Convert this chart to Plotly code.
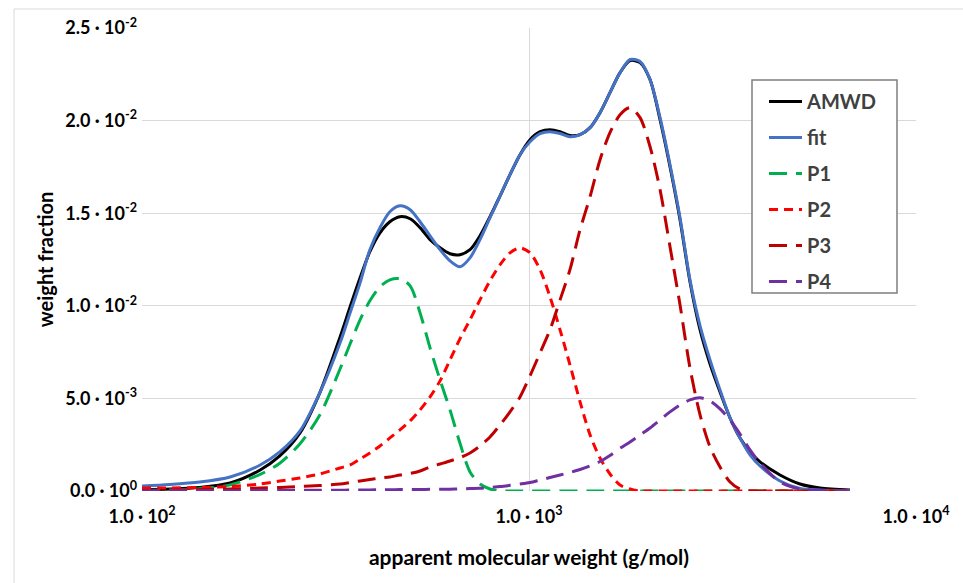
import plotly.graph_objects as go

# apparent molecular weight (g/mol)
mw = [100, 118, 141, 169, 202, 227, 256, 288, 325, 345, 366, 388, 412, 437, 464, 493, 523, 555,
      589, 625, 663, 704, 747, 793, 842, 893, 948, 1006, 1068, 1133, 1203, 1276, 1355, 1438, 1526,
      1619, 1719, 1824, 1936, 2055, 2181, 2314, 2456, 2606, 2767, 2936, 3116, 3307, 3510, 3725,
      3953, 4453, 5015, 5649, 6751]

# weight fraction values, in units of 1e-3
amwd = [0.081, 0.108, 0.189, 0.432, 1.135, 1.892, 3.135, 5.30, 8.32, 9.95, 11.51, 12.92, 13.94,
        14.54, 14.81, 14.70, 14.22, 13.57, 13.13, 12.81, 12.76, 13.03, 13.78, 14.81, 15.94, 17.08,
        18.16, 18.97, 19.40, 19.51, 19.40, 19.19, 19.24, 19.62, 20.43, 21.51, 22.59, 23.24, 23.13,
        22.21, 20.05, 17.51, 14.65, 11.30, 8.70, 6.86, 5.35, 3.95, 2.86, 2.11, 1.57, 0.865, 0.378,
        0.162, 0.054]
fit = [0.270, 0.351, 0.486, 0.757, 1.405, 2.108, 3.243, 5.30, 8.00, 9.62, 11.24, 13.03, 14.22,
       15.08, 15.40, 15.19, 14.54, 13.78, 13.03, 12.43, 12.11, 12.59, 13.57, 14.76, 15.94, 17.08,
       18.16, 18.86, 19.30, 19.40, 19.30, 19.13, 19.24, 19.62, 20.43, 21.51, 22.59, 23.30, 23.19,
       22.21, 20.16, 17.62, 14.76, 11.40, 8.92, 7.08, 5.46, 3.95, 2.86, 1.95, 1.35, 0.541, 0.135,
       0.054, 0.027]
p1 = [0.027, 0.054, 0.120, 0.330, 0.900, 1.50, 2.55, 4.10, 6.60, 7.95, 9.24, 10.27, 11.03,
      11.40, 11.46, 11.08, 9.62, 7.73, 6.00, 4.38, 2.59, 1.03, 0.378, 0.108, 0.0, 0.0, 0.0, 0.0,
      0.0, 0.0, 0.0, 0.0, 0.0, 0.0, 0.0, 0.0, 0.0, 0.0, 0.0, 0.0, 0.0, 0.0, 0.0, 0.0, 0.0, 0.0,
      0.0, 0.0, 0.0, 0.0, 0.0, 0.0, 0.0, 0.0, 0.0]
p2 = [0.162, 0.162, 0.189, 0.243, 0.378, 0.541, 0.703, 0.919, 1.243, 1.405, 1.730, 2.054, 2.432,
      2.865, 3.297, 3.784, 4.378, 5.081, 5.946, 7.081, 8.216, 9.243, 10.32, 11.35, 12.22, 12.86,
      13.13, 12.86, 11.95, 10.49, 8.70, 6.81, 4.81, 3.03, 1.78, 0.919, 0.324, 0.108, 0.0, 0.0,
      0.0, 0.0, 0.0, 0.0, 0.0, 0.0, 0.0, 0.0, 0.0, 0.0, 0.0, 0.0, 0.0, 0.0, 0.0]
p3 = [0.027, 0.054, 0.081, 0.108, 0.162, 0.189, 0.243, 0.297, 0.378, 0.459, 0.541, 0.622, 0.703,
      0.757, 0.865, 0.946, 1.081, 1.30, 1.46, 1.62, 1.80, 2.054, 2.432, 2.919, 3.567, 4.27, 5.08,
      6.22, 7.46, 8.70, 10.32, 11.95, 14.11, 15.89, 17.89, 19.35, 20.32, 20.70, 20.16, 18.59,
      16.27, 13.19, 10.05, 6.65, 4.11, 2.38, 1.30, 0.486, 0.108, 0.0, 0.0, 0.0, 0.0, 0.0, 0.0]
p4 = [0.005, 0.008, 0.012, 0.018, 0.025, 0.030, 0.035, 0.040, 0.045, 0.050, 0.055, 0.060, 0.065,
      0.070, 0.075, 0.080, 0.084, 0.090, 0.095, 0.100, 0.114, 0.130, 0.146, 0.189,
      0.243, 0.308, 0.378, 0.459, 0.595, 0.730, 0.865, 1.00, 1.162, 1.351, 1.594, 1.919, 2.308,
      2.649, 3.027, 3.405, 3.838, 4.27, 4.65, 4.92, 5.03, 4.86, 4.43, 3.84, 3.08, 2.22, 1.51,
      0.486, 0.108, 0.027, 0.005]

SCALE = 1e-3

series_names = ["AMWD", "fit", "P1", "P2", "P3", "P4"]
series_vals = [amwd, fit, p1, p2, p3, p4]
colors = ["#000000", "#4472C4", "#00B050", "#FF0000", "#C00000", "#7030A0"]
dashes = ["solid", "solid", "18px,9px", "9px,6px", "18px,9px", "18px,9px"]

y_tickvals = [0.0, 0.005, 0.010, 0.015, 0.020, 0.025]
y_ticktext = ["0.0 · 10<sup>0</sup>", "5.0 · 10<sup>-3</sup>", "1.0 · 10<sup>-2</sup>",
              "1.5 · 10<sup>-2</sup>", "2.0 · 10<sup>-2</sup>", "2.5 · 10<sup>-2</sup>"]
x_tickvals = [100, 1000, 10000]
x_ticktext = ["1.0 · 10<sup>2</sup>", "1.0 · 10<sup>3</sup>", "1.0 · 10<sup>4</sup>"]

fig = go.Figure()
for name, vals, col, dsh in zip(series_names, series_vals, colors, dashes):
    fig.add_trace(go.Scatter(
        x=mw, y=[v * SCALE for v in vals], mode="lines", name=name,
        legendgroup=name,
        line=dict(color=col, width=3, dash=dsh, shape="spline", smoothing=0.8),
    ))

W, H = 963, 583
ml, mr, mt, mb = 142, 47, 28, 92
pw, ph = W - ml - mr, H - mt - mb

def px2paper_x(px):
    return (px - ml) / pw

def py2paper_y(py):
    return (H - mb - py) / ph

fig.update_layout(
    width=W, height=H,
    margin=dict(l=ml, r=mr, t=mt, b=mb, pad=0),
    paper_bgcolor="white", plot_bgcolor="white",
    font=dict(family="Lato", size=18, color="#000000"),
    showlegend=True,
    legend=dict(
        x=px2paper_x(764), y=py2paper_y(82), xanchor="left", yanchor="top",
        bgcolor="rgba(0,0,0,0)", borderwidth=0,
        font=dict(family="Lato", size=20, color="#404040", weight="bold"),
        traceorder="grouped", tracegroupgap=7, itemwidth=33,
    ),
    xaxis=dict(
        type="log", range=[2, 4], tickvals=x_tickvals, ticktext=x_ticktext,
        showgrid=True, gridcolor="#D9D9D9", gridwidth=1, zeroline=False,
        showline=False, ticks="", ticklabelstandoff=13,
        tickfont=dict(family="Lato", size=18, color="#000000", weight="bold"),
        title=dict(text="apparent molecular weight (g/mol)", standoff=24,
                   font=dict(family="Lato", size=21, color="#000000", weight="bold")),
    ),
    yaxis=dict(
        range=[0, 0.025], tickvals=y_tickvals, ticktext=y_ticktext,
        showgrid=True, gridcolor="#D9D9D9", gridwidth=1, zeroline=False,
        showline=False, ticks="", ticklabelstandoff=4,
        tickfont=dict(family="Lato", size=18, color="#000000", weight="bold"),
        title=dict(text="weight fraction", standoff=6,
                   font=dict(family="Lato", size=20, color="#000000", weight="bold")),
    ),
    shapes=[
        dict(type="line", xref="paper", yref="paper", x0=px2paper_x(14), x1=px2paper_x(975),
             y0=py2paper_y(9), y1=py2paper_y(9), line=dict(color="#D9D9D9", width=1)),
        dict(type="line", xref="paper", yref="paper", x0=px2paper_x(14), x1=px2paper_x(14),
             y0=py2paper_y(9), y1=py2paper_y(600), line=dict(color="#D9D9D9", width=1)),
        dict(type="rect", xref="paper", yref="paper", layer="above",
             x0=px2paper_x(752), x1=px2paper_x(897), y0=py2paper_y(293), y1=py2paper_y(80),
             fillcolor="white", line=dict(color="#7F7F7F", width=1.5)),
    ],
)

fig.write_html("out.html")
